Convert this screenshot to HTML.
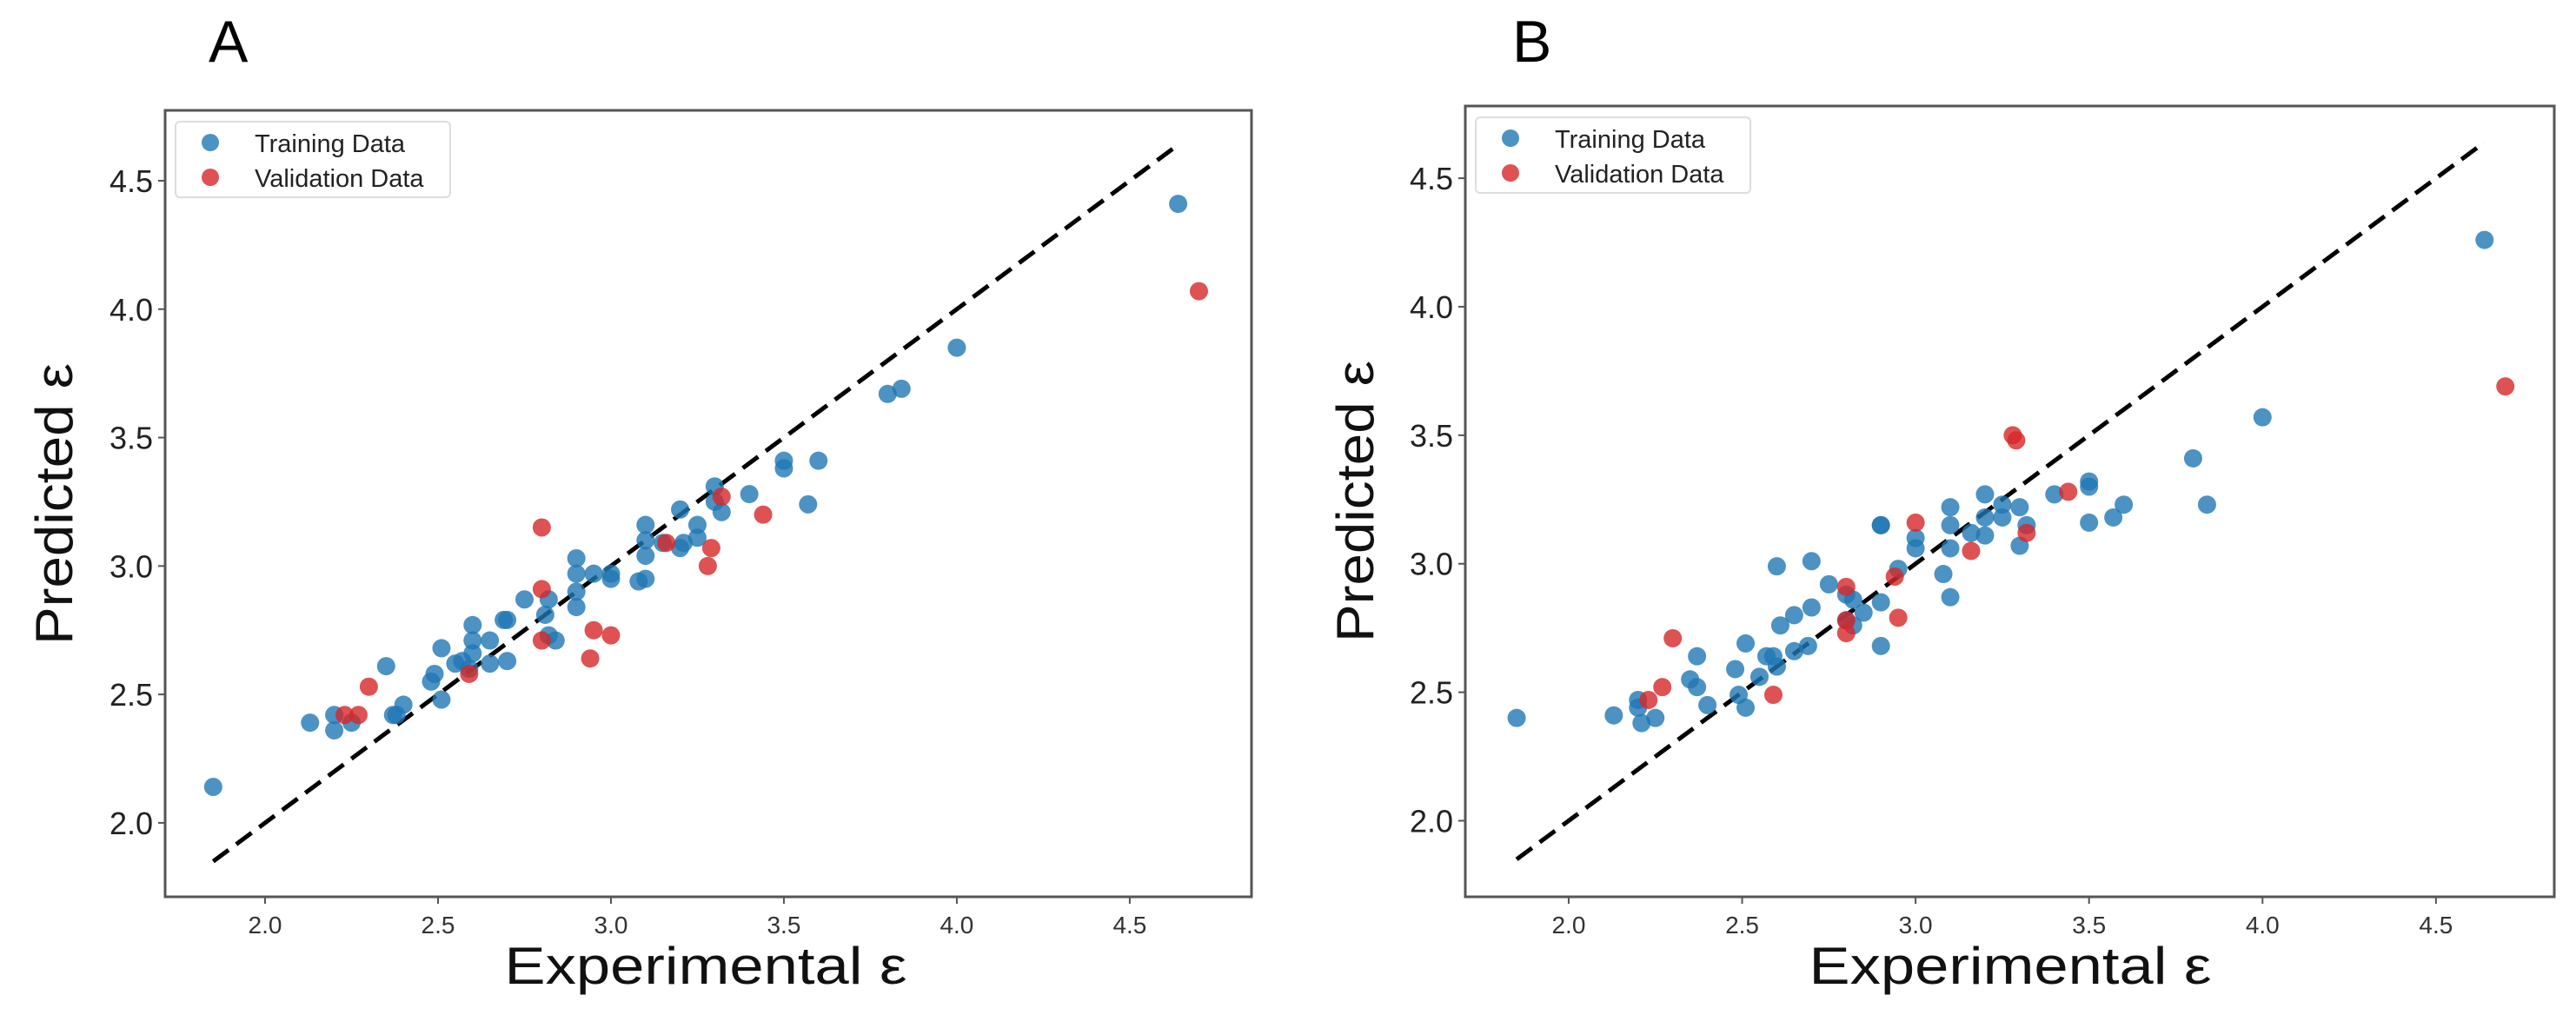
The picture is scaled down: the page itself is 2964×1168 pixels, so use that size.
<!DOCTYPE html>
<html><head><meta charset="utf-8"><style>
html,body{margin:0;padding:0;background:#fff;}
svg{display:block;font-family:"Liberation Sans","DejaVu Sans",sans-serif;}
</style></head><body>
<svg id="chart" width="2964" height="1168" viewBox="0 0 2964 1168" xmlns="http://www.w3.org/2000/svg"></svg>
<script>
// Panel A data
const trainAx=[1.85,2.13,2.20,2.20,2.25,2.35,2.37,2.40,2.38,2.48,2.49,2.51,2.51,2.55,2.57,2.60,2.60,2.60,2.59,2.65,2.65,2.69,2.70,2.70,2.75,2.82,2.81,2.82,2.84,2.90,2.90,2.90,2.90,2.95,3.00,3.00,3.08,3.10,3.10,3.10,3.10,3.15,3.20,3.20,3.21,3.25,3.25,3.30,3.30,3.32,3.40,3.50,3.50,3.57,3.60,3.80,3.84,4.00,4.64];
const trainAy=[2.14,2.39,2.42,2.36,2.39,2.61,2.42,2.46,2.42,2.55,2.58,2.68,2.48,2.62,2.63,2.77,2.71,2.66,2.60,2.71,2.62,2.79,2.79,2.63,2.87,2.87,2.81,2.73,2.71,3.03,2.97,2.90,2.84,2.97,2.97,2.95,2.94,2.95,3.16,3.10,3.04,3.09,3.22,3.07,3.09,3.16,3.11,3.31,3.25,3.21,3.28,3.41,3.38,3.24,3.41,3.67,3.69,3.85,4.41];
const valAx=[2.80,2.80,2.80,2.30,2.23,2.27,2.59,2.95,2.94,3.00,3.16,3.32,3.29,3.28,3.44,4.70];
const valAy=[3.15,2.91,2.71,2.53,2.42,2.42,2.58,2.75,2.64,2.73,3.09,3.27,3.07,3.00,3.20,4.07];
// Panel B data
const trainBx=[1.85,2.13,2.20,2.20,2.21,2.25,2.35,2.37,2.37,2.40,2.48,2.49,2.51,2.51,2.55,2.57,2.59,2.60,2.61,2.60,2.65,2.65,2.69,2.70,2.70,2.75,2.80,2.82,2.80,2.82,2.85,2.90,2.90,2.90,2.90,2.95,3.00,3.00,3.08,3.10,3.10,3.10,3.10,3.16,3.20,3.20,3.20,3.25,3.25,3.30,3.30,3.32,3.40,3.50,3.50,3.50,3.57,3.60,3.80,3.84,4.00,4.64];
const trainBy=[2.40,2.41,2.47,2.44,2.38,2.40,2.55,2.64,2.52,2.45,2.59,2.49,2.69,2.44,2.56,2.64,2.64,2.60,2.76,2.99,2.80,2.66,2.68,2.83,3.01,2.92,2.88,2.86,2.78,2.76,2.81,3.15,3.15,2.85,2.68,2.98,3.10,3.06,2.96,3.22,3.15,3.06,2.87,3.12,3.27,3.18,3.11,3.18,3.23,3.22,3.07,3.15,3.27,3.32,3.30,3.16,3.18,3.23,3.41,3.23,3.57,4.26];
const valBx=[2.30,2.23,2.27,2.59,2.80,2.80,2.80,2.94,2.95,3.00,3.16,3.28,3.29,3.32,3.44,4.70];
const valBy=[2.71,2.47,2.52,2.49,2.91,2.73,2.78,2.95,2.79,3.16,3.05,3.50,3.48,3.12,3.28,3.69];
const xTicks=[2.0,2.5,3.0,3.5,4.0,4.5];
const yTicks=[2.0,2.5,3.0,3.5,4.0,4.5];
const xTickLabels=["2.0","2.5","3.0","3.5","4.0","4.5"];
const yTickLabels=["2.0","2.5","3.0","3.5","4.0","4.5"];
const refLine=[1.85,4.64];

const NS="http://www.w3.org/2000/svg";
const svg=document.getElementById('chart');
function mk(tag,attrs,parent){const e=document.createElementNS(NS,tag);for(const k in attrs)e.setAttribute(k,attrs[k]);(parent||svg).appendChild(e);return e;}

function panel(cfg){
  const g=mk('g',{});
  
  
  const sx=v=>cfg.L+(v-cfg.x0)/(cfg.x1-cfg.x0)*(cfg.R-cfg.L);
  const sy=v=>cfg.B-(v-cfg.y0)/(cfg.y1-cfg.y0)*(cfg.B-cfg.T);
  const lab=mk('text',{x:cfg.labX,y:71,'font-size':68,fill:'#000'},g);
  lab.textContent=cfg.id.toUpperCase();
  
  
  // ticks
  xTicks.forEach((t,i)=>{
    const x=sx(t);
    const tk=mk('line',{x1:x,x2:x,y1:cfg.B,y2:cfg.B+8,stroke:'#555','stroke-width':2},g);
    
    
    const tl=mk('text',{x:x,y:cfg.B+42,'font-size':28,fill:'#333','text-anchor':'middle'},g);
    tl.textContent=xTickLabels[i];
    
    
  });
  yTicks.forEach((t,i)=>{
    const y=sy(t);
    const tk=mk('line',{x1:cfg.L-8,x2:cfg.L,y1:y,y2:y,stroke:'#555','stroke-width':2},g);
    
    
    const tl=mk('text',{x:cfg.L-14,y:y+13,'font-size':36,fill:'#222','text-anchor':'end'},g);
    tl.textContent=yTickLabels[i];
    
    
  });
  // reference line
  const rl=mk('line',{x1:sx(refLine[0]),y1:sy(refLine[0]),x2:sx(refLine[1]),y2:sy(refLine[1]),stroke:'#000','stroke-width':5,'stroke-dasharray':'22,11'},g);
  
  
  // points
  cfg.tx.forEach((v,i)=>{
    const c=mk('circle',{cx:sx(v),cy:sy(cfg.ty[i]),r:10.5,fill:'#1f77b4','fill-opacity':0.8},g);
    
    
  });
  cfg.vx.forEach((v,i)=>{
    const c=mk('circle',{cx:sx(v),cy:sy(cfg.vy[i]),r:10.5,fill:'#d62728','fill-opacity':0.8},g);
    
    
  });
  // frame
  const fr=mk('rect',{x:cfg.L,y:cfg.T,width:cfg.R-cfg.L,height:cfg.B-cfg.T,fill:'none',stroke:'#555','stroke-width':3},g);
  
  
  // legend
  const lg=mk('g',{},g);
  
  
  mk('rect',{x:cfg.L+12,y:cfg.T+13,width:316,height:87,rx:5,fill:'#fff','fill-opacity':0.8,stroke:'#ddd','stroke-width':2},lg);
  const m1=mk('circle',{cx:cfg.L+52,cy:cfg.T+37,r:10,fill:'#1f77b4','fill-opacity':0.8},lg);
  
  
  const t1=mk('text',{x:cfg.L+103,y:cfg.T+48,'font-size':29,fill:'#222'},lg);
  t1.textContent='Training Data';
  
  
  const m2=mk('circle',{cx:cfg.L+52,cy:cfg.T+77,r:10,fill:'#d62728','fill-opacity':0.8},lg);
  
  
  const t2=mk('text',{x:cfg.L+103,y:cfg.T+88,'font-size':29,fill:'#222'},lg);
  t2.textContent='Validation Data';
  
  
  // titles
  const xt=mk('text',{x:cfg.xtX,y:1132,'font-size':60,fill:'#111','text-anchor':'middle',textLength:463,lengthAdjust:'spacingAndGlyphs'},g);
  xt.textContent='Experimental ε';
  
  
  const yt=mk('text',{x:0,y:0,'font-size':60,fill:'#111','text-anchor':'middle',textLength:324,lengthAdjust:'spacingAndGlyphs',transform:`translate(${cfg.ytX+21},${cfg.ytY}) rotate(-90)`},g);
  yt.textContent='Predicted ε';
  
  
}
panel({id:'a',L:190,R:1440,T:127,B:1032,x0:1.711,x1:4.852,y0:1.712,y1:4.774,tx:trainAx,ty:trainAy,vx:valAx,vy:valAy,labX:240,xtX:812,ytX:62,ytY:580});
panel({id:'b',L:1686,R:2939,T:122,B:1032,x0:1.702,x1:4.841,y0:1.704,y1:4.781,tx:trainBx,ty:trainBy,vx:valBx,vy:valBy,labX:1740,xtX:2313,ytX:1559,ytY:577});
</script>
</body></html>
